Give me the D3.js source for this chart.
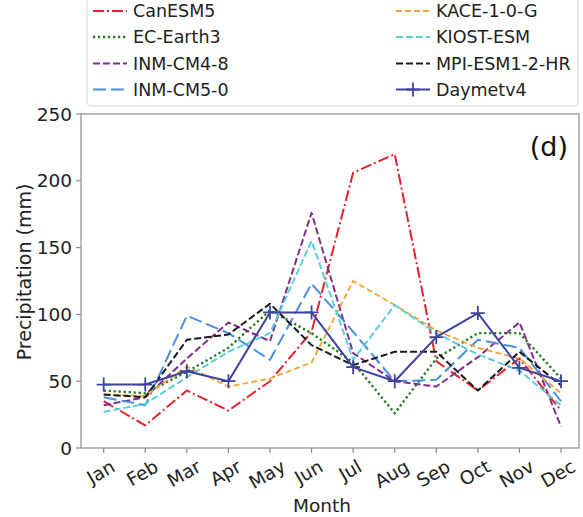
<!DOCTYPE html>
<html>
<head>
<meta charset="utf-8">
<script src="https://cdn.jsdelivr.net/npm/d3@7"></script>
<style>
  html, body { margin: 0; padding: 0; background: #fff; }
  svg { display: block; font-family: "DejaVu Sans", sans-serif; }
</style>
</head>
<body>
<div class="chart-container"></div>
<script>
// monthly precipitation (mm)
const months = ["Jan", "Feb", "Mar", "Apr", "May", "Jun", "Jul", "Aug", "Sep", "Oct", "Nov", "Dec"];
const yTicks = [0, 50, 100, 150, 200, 250];

const canESM5 = [35, 17, 43, 28, 50, 87, 206, 220, 65, 43, 67, 28];
const ecEarth3 = [43, 41, 57, 75, 103, 86, 64, 26, 67, 86, 86, 52];
const inmCM48 = [32, 38, 67, 94, 80, 176, 71, 50, 46, 68, 94, 16];
const inmCM50 = [38, 32, 99, 86, 66, 123, 87, 50, 51, 81, 75, 35];
const kace = [40, 39, 61, 46, 52, 64, 125, 107, 88, 75, 67, 41];
const kiost = [27, 33, 53, 72, 86, 155, 66, 107, 86, 70, 58, 32];
const mpi = [40, 38, 81, 85, 108, 77, 62, 72, 72, 43, 72, 47];
const daymet = [47.5, 47.5, 57.5, 50, 101.5, 101.5, 60.5, 50, 83, 101, 60, 50];

const seriesNames = ["CanESM5", "EC-Earth3", "INM-CM4-8", "INM-CM5-0", "KACE-1-0-G", "KIOST-ESM", "MPI-ESM1-2-HR", "Daymetv4"];
const seriesValues = [canESM5, ecEarth3, inmCM48, inmCM50, kace, kiost, mpi, daymet];

// styles per series (same order as names)
const STYLES = [
  { color: "#e5222b", dash: "11,3,2,3", width: 2 },
  { color: "#1f7a1f", dash: "2.2,2.8", width: 2.4 },
  { color: "#7e2f8e", dash: "7,3", width: 2 },
  { color: "#4a8fdc", dash: "13,5", width: 2 },
  { color: "#f2a431", dash: "6,3", width: 1.8 },
  { color: "#58cfdd", dash: "7,3", width: 2 },
  { color: "#1a1a1a", dash: "7,3", width: 2 },
  { color: "#3c43a0", dash: null, width: 2, marker: true },
];

const W = 583, H = 517;
const plot = { left: 81, right: 579, top: 114, bottom: 448 };
const FS = 18.5;

const svg = d3.select(".chart-container")
  .append("svg")
  .attr("width", W)
  .attr("height", H);

const x = d3.scaleLinear().domain([0, 11]).range([103.7, 561]);
const y = d3.scaleLinear().domain([0, 250]).range([plot.bottom, plot.top]);

// frame
svg.append("rect")
  .attr("x", plot.left)
  .attr("y", plot.top)
  .attr("width", plot.right - plot.left)
  .attr("height", plot.bottom - plot.top)
  .attr("fill", "none")
  .attr("stroke", "#8c8c8c")
  .attr("stroke-width", 1.2);

// y axis
const gy = svg.append("g");
gy.selectAll("line")
  .data(yTicks)
  .enter()
  .append("line")
  .attr("x1", plot.left - 5)
  .attr("x2", plot.left)
  .attr("y1", d => y(d))
  .attr("y2", d => y(d))
  .attr("stroke", "#8c8c8c")
  .attr("stroke-width", 1.2);
gy.selectAll("text")
  .data(yTicks)
  .enter()
  .append("text")
  .attr("x", plot.left - 9)
  .attr("y", d => y(d))
  .attr("dy", "0.36em")
  .attr("text-anchor", "end")
  .attr("font-size", FS)
  .attr("fill", "#222")
  .text(d => d);

svg.append("text")
  .attr("transform", "translate(24," + 272 + ")rotate(-90)")
  .attr("text-anchor", "middle")
  .attr("dy", "0.36em")
  .attr("font-size", 19)
  .attr("fill", "#222")
  .text("Precipitation (mm)");

// x axis
const gx = svg.append("g");
gx.selectAll("line")
  .data(months)
  .enter()
  .append("line")
  .attr("x1", (d, i) => x(i))
  .attr("x2", (d, i) => x(i))
  .attr("y1", plot.bottom)
  .attr("y2", plot.bottom + 5)
  .attr("stroke", "#8c8c8c")
  .attr("stroke-width", 1.2);

gx.selectAll("text")
  .data(months)
  .enter()
  .append("text")
  .attr("text-anchor", "middle")
  .attr("dy", "0.36em")
  .attr("font-size", FS)
  .attr("fill", "#222")
  .text(d => d)
  .attr("transform", function (d, i) {
    // rotated label centred under its tick, like matplotlib rotation=30
    const w = this.getComputedTextLength();
    const h = FS * 0.95;
    const a = 30 * Math.PI / 180;
    const bh = w * Math.sin(a) + h * Math.cos(a);
    const cy = plot.bottom + 5 + 4 + bh / 2;
    return "translate(" + (x(i) - 3) + "," + cy + ")rotate(-30)";
  });

svg.append("text")
  .attr("x", (plot.left + plot.right) / 2 - 8)
  .attr("y", 505)
  .attr("dy", "0.36em")
  .attr("text-anchor", "middle")
  .attr("font-size", FS)
  .attr("fill", "#222")
  .text("Month");

// panel letter
svg.append("text")
  .attr("x", 568)
  .attr("y", 156)
  .attr("text-anchor", "end")
  .attr("font-size", 27)
  .attr("fill", "#111")
  .text("(d)");

// lines
const line = d3.line()
  .x((d, i) => x(i))
  .y(d => y(d));

const gLines = svg.append("g");
seriesValues.forEach((vals, k) => {
  const s = STYLES[k];
  gLines.append("path")
    .datum(vals)
    .attr("d", line)
    .attr("fill", "none")
    .attr("stroke", s.color)
    .attr("stroke-width", s.width)
    .attr("stroke-dasharray", s.dash)
    .attr("stroke-linejoin", "round");
  if (s.marker) {
    gLines.selectAll(".mk")
      .data(vals)
      .enter()
      .append("path")
      .attr("class", "mk")
      .attr("d", "M-7,0H7M0,-7V7")
      .attr("transform", (d, i) => "translate(" + x(i) + "," + y(d) + ")")
      .attr("stroke", s.color)
      .attr("stroke-width", 1.8);
  }
});

// legend
const legend = svg.append("g");
legend.append("rect")
  .attr("x", 87)
  .attr("y", -10)
  .attr("width", 491)
  .attr("height", 116)
  .attr("rx", 4)
  .attr("fill", "#fff")
  .attr("fill-opacity", 0.9)
  .attr("stroke", "#d6d6d6")
  .attr("stroke-width", 1);

const colX = [93, 396];
const rowY = [11, 37, 63.5, 89.5];
seriesNames.forEach((name, k) => {
  const s = STYLES[k];
  const cx = colX[Math.floor(k / 4)];
  const cy = rowY[k % 4];
  legend.append("line")
    .attr("x1", cx)
    .attr("x2", cx + 34)
    .attr("y1", cy)
    .attr("y2", cy)
    .attr("stroke", s.color)
    .attr("stroke-width", s.width)
    .attr("stroke-dasharray", s.dash);
  if (s.marker) {
    legend.append("path")
      .attr("d", "M-7,0H7M0,-7V7")
      .attr("transform", "translate(" + (cx + 17) + "," + cy + ")")
      .attr("stroke", s.color)
      .attr("stroke-width", 1.8);
  }
  legend.append("text")
    .attr("x", cx + 40)
    .attr("y", cy)
    .attr("dy", "0.36em")
    .attr("font-size", 17.5)
    .attr("fill", "#222")
    .text(name);
});
</script>
</body>
</html>
